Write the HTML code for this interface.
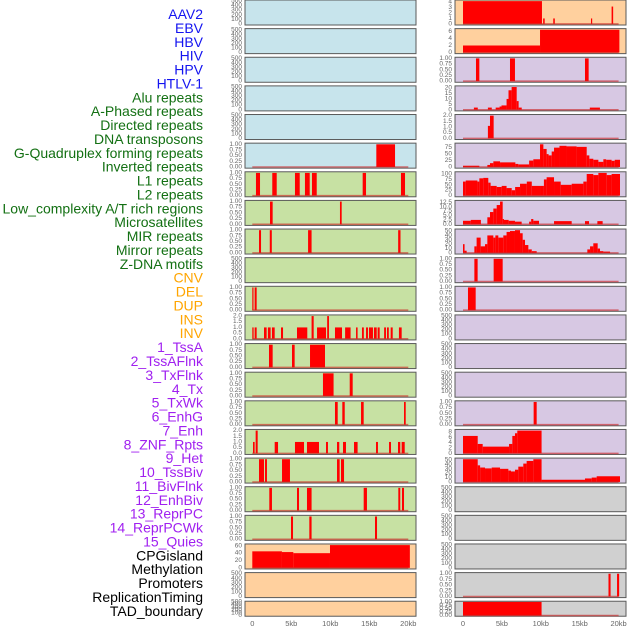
<!DOCTYPE html>
<html><head><meta charset="utf-8"><style>
html,body{margin:0;padding:0;background:#fff;}
svg{display:block;font-family:"Liberation Sans",sans-serif;}
</style></head><body>
<svg id="chart" width="630" height="630" viewBox="0 0 630 630" xmlns="http://www.w3.org/2000/svg"></svg>
<script>
// ---- labels ----
const labelNames = ["AAV2","EBV","HBV","HIV","HPV","HTLV-1","Alu repeats","A-Phased repeats","Directed repeats","DNA transposons","G-Quadruplex forming repeats","Inverted repeats","L1 repeats","L2 repeats","Low_complexity A/T rich regions","Microsatellites","MIR repeats","Mirror repeats","Z-DNA motifs","CNV","DEL","DUP","INS","INV","1_TssA","2_TssAFlnk","3_TxFlnk","4_Tx","5_TxWk","6_EnhG","7_Enh","8_ZNF_Rpts","9_Het","10_TssBiv","11_BivFlnk","12_EnhBiv","13_ReprPC","14_ReprPCWk","15_Quies","CPGisland","Methylation","Promoters","ReplicationTiming","TAD_boundary"];
const labelGroups = [6,13,5,15,5];
const groupColors = ["#1414f0","#137013","#ffa500","#a020f0","#000000"];
// ---- x ticks ----
const xTickVals = [0,5,10,15,20];
const xTickLabels = ["0","5kb","10kb","15kb","20kb"];
// ---- y tick sets ----
const t500 = ["0","100","200","300","400","500"];
const t01 = ["0.00","0.25","0.50","0.75","1.00"];
const t02 = ["0.0","0.5","1.0","1.5","2.0"];
const t060 = ["0","20","40","60"];
const t04 = ["0","1","2","3","4"];
const t06 = ["0","2","4","6"];
const t020 = ["0","5","10","15","20"];
const t075 = ["0","25","50","75"];
const t0100 = ["0","25","50","75","100"];
const t0125 = ["0.0","2.5","5.0","7.5","10.0","12.5"];
const t050 = ["0","10","20","30","40","50"];
const t08 = ["0","2","4","6","8"];
// ---- data segments [startKb, endKb, value] ----
const gquadL = [[15.9,18.3,1]];
const l1L = [[0.47,0.99,1],[2.56,3.13,1],[5.47,6.08,1],[6.75,7.36,1],[7.65,8.26,1],[14.15,14.58,1],[19.06,19.58,1]];
const lowL = [[2.27,2.61,1],[11.24,11.46,1]];
const mirL = [[0.86,1.12,1],[2.24,2.5,1],[7.15,7.6,1],[18.7,19.0,1]];
const delL = [[0,0.15,1],[0.3,0.56,1]];
const insL = [[0,0.17,1],[0.3,0.56,1],[1.5,1.84,1],[2.0,2.35,1],[2.52,2.87,1],[3.68,3.94,1],[5.73,7.05,1],[7.6,7.87,2],[8.3,9.45,1],[9.6,9.83,2],[10.6,11.5,1],[11.9,12.6,1],[13.3,13.5,1],[14.06,14.3,1],[14.58,14.83,1],[14.96,15.47,1],[15.6,15.95,1],[16.07,16.33,1],[16.9,17.14,1],[17.27,17.5,1],[17.74,18.0,1],[18.8,19.15,1]];
const tssaL = [[2.14,2.61,1],[5.09,5.43,1],[7.4,9.32,1]];
const tssaflnkL = [[9.06,10.42,1],[12.49,12.87,1]];
const txflnkL = [[10.6,10.95,1],[11.54,11.85,1],[13.94,14.28,1],[19.45,19.67,1]];
const txL = [[0.09,0.3,1],[0.43,0.69,2],[2.87,3.3,1],[5.47,6.63,1],[7.01,8.55,1],[9.45,9.7,1],[10.86,11.15,1],[11.63,12.01,1],[13.04,13.5,1],[15.86,16.11,1],[17.53,17.78,1],[18.68,18.97,1],[19.15,19.54,1]];
const txwkL = [[0.86,1.5,1],[1.63,1.88,1],[3.81,4.83,1],[10.86,11.2,1],[11.37,11.76,1]];
const enhgL = [[2.18,2.52,1],[5.73,5.99,1],[7.01,7.6,1],[14.28,14.7,1],[18.72,18.97,1],[19.19,19.45,1]];
const enhL = [[4.96,5.22,1],[7.31,7.6,1],[15.73,15.99,1]];
const cpgL = [[0,3.8,45],[3.8,5.26,43],[5.26,9.96,40],[9.96,20.2,62]];
const aavR = [[0,10.15,4.2],[10.3,10.5,1],[11.6,11.8,1],[16.45,16.6,1],[19.1,19.3,3.2]];
const ebvR = [[0,9.9,2],[9.9,20.1,6.5]];
const hbvR = [[1.67,2.1,1],[6.04,6.68,1],[15.68,16.15,1]];
const hivR = [[1.4,1.9,2],[3.2,3.7,2],[4.2,4.7,2],[4.7,4.95,3],[4.95,5.6,4],[5.6,5.85,10],[5.85,6.25,18],[6.25,6.9,21],[6.9,7.15,8],[7.15,7.55,2],[16.3,17.6,2]];
const hpvR = [[3.2,3.47,1.1],[3.47,3.94,2]];
const gquadR = [[0,2.1,5],[3.13,3.47,8],[3.47,3.9,15],[3.9,4.76,22],[4.76,6.73,18],[6.73,7.11,12],[7.11,8.5,10],[8.5,9.04,25],[9.04,9.9,30],[9.9,10.33,88],[10.33,10.75,70],[10.75,11.0,50],[11.0,11.4,45],[11.4,11.7,60],[11.7,12.4,75],[12.4,13.3,82],[13.3,14.6,80],[14.6,15.9,78],[15.9,16.24,45],[16.24,16.75,32],[16.75,17.4,28],[17.4,18.04,20],[18.04,18.4,30],[18.4,19.1,28],[19.1,19.5,24],[19.5,20.18,28]];
const invR = [[0,0.35,65],[0.35,1.85,70],[1.85,2.1,65],[2.1,2.6,80],[2.6,3.25,82],[3.25,3.55,60],[3.55,4.33,45],[4.33,4.97,40],[4.97,5.6,45],[5.6,6.26,35],[6.26,6.7,25],[6.7,7.33,40],[7.33,8.2,55],[8.2,8.84,65],[8.84,9.9,45],[9.9,10.4,45],[10.4,10.75,75],[10.75,11.7,85],[11.7,12.56,65],[12.56,13.97,50],[13.97,15.47,55],[15.47,15.9,65],[15.9,16.75,100],[16.75,17.4,95],[17.4,18.47,105],[18.47,19.1,95],[19.1,20.18,100]];
const lowcR = [[0,1.0,2],[1.0,2.3,2.5],[3.13,3.47,4],[3.47,3.9,7],[3.9,4.33,9],[4.33,4.76,11],[4.76,5.1,13],[5.1,5.27,3],[5.27,5.87,2.5],[5.87,6.68,2],[6.68,7.54,1.5],[8.5,8.76,1.5],[8.76,9.04,3],[9.04,9.77,2],[11.7,13.97,1.8],[15.68,16.2,1.8],[17.27,17.95,1.8]];
const mirR = [[0,0.2,20],[0.2,0.47,5],[1.46,1.75,15],[1.75,2.27,35],[2.27,2.83,15],[2.83,3.13,20],[3.13,3.9,40],[3.9,4.16,35],[4.16,4.54,40],[4.54,5.18,35],[5.18,5.6,40],[5.6,6.04,48],[6.04,6.68,50],[6.68,7.33,52],[7.33,7.67,45],[7.67,7.97,30],[7.97,8.4,18],[8.4,8.84,8],[8.84,9.47,4],[15.98,16.33,8],[16.33,16.75,15],[16.75,17.31,22],[17.31,17.61,10],[17.61,18.04,4],[18.04,18.9,3]];
const microR = [[1.46,1.88,1],[3.94,5.1,1]];
const mirrorR = [[0.64,1.63,1]];
const enhR = [[9.08,9.47,1]];
const znfR = [[0,1.89,6.5],[1.89,2.53,3.5],[2.53,5.92,2.5],[5.92,6.34,3.5],[6.34,6.68,6.5],[6.68,6.98,7.5],[6.98,10.1,8.5]];
const hetR = [[0,1.89,52],[1.89,2.2,38],[2.2,2.83,33],[2.83,3.69,31],[3.69,4.76,33],[4.76,5.83,30],[5.83,6.17,26],[6.17,6.68,24],[6.68,7.11,28],[7.11,7.75,35],[7.75,8.18,42],[8.18,9.04,48],[9.04,10.1,52],[10.1,15.68,5],[15.68,16.54,8],[16.54,17.18,10],[17.18,20.18,13]];
const promR = [[18.7,18.97,1],[19.8,20.07,1]];
const tadR = [[0,10.1,1]];

const BLUE="#c7e4ec", PEACH="#ffd09e", LAV="#d7c8e3", GREEN="#c7e1a3", GRAY="#d0d0d0";
// rows: [row, side, bg, maxValue, ticks, segments]
const panels = [
 [0,"L",BLUE,500,t500,null],[1,"L",BLUE,500,t500,null],[2,"L",BLUE,500,t500,null],[3,"L",BLUE,500,t500,null],[4,"L",BLUE,500,t500,null],
 [5,"L",BLUE,1,t01,gquadL],[6,"L",GREEN,1,t01,l1L],[7,"L",GREEN,1,t01,lowL],[8,"L",GREEN,1,t01,mirL],[9,"L",GREEN,500,t500,null],
 [10,"L",GREEN,1,t01,delL],[11,"L",GREEN,2,t02,insL],[12,"L",GREEN,1,t01,tssaL],[13,"L",GREEN,1,t01,tssaflnkL],[14,"L",GREEN,1,t01,txflnkL],
 [15,"L",GREEN,2,t02,txL],[16,"L",GREEN,1,t01,txwkL],[17,"L",GREEN,1,t01,enhgL],[18,"L",GREEN,1,t01,enhL],[19,"L",PEACH,62,t060,cpgL],
 [20,"L",PEACH,500,t500,null],[21,"L",PEACH,500,t500,null],
 [0,"R",PEACH,4.2,t04,aavR],[1,"R",PEACH,6.5,t06,ebvR],[2,"R",LAV,1,t01,hbvR],[3,"R",LAV,21,t020,hivR],[4,"R",LAV,2,t02,hpvR],
 [5,"R",LAV,88,t075,gquadR],[6,"R",LAV,105,t0100,invR],[7,"R",LAV,13,t0125,lowcR],[8,"R",LAV,52,t050,mirR],[9,"R",LAV,1,t01,microR],
 [10,"R",LAV,1,t01,mirrorR],[11,"R",LAV,500,t500,null],[12,"R",LAV,500,t500,null],[13,"R",LAV,500,t500,null],[14,"R",LAV,1,t01,enhR],
 [15,"R",LAV,8.5,t08,znfR],[16,"R",LAV,52,t050,hetR],[17,"R",GRAY,500,t500,null],[18,"R",GRAY,500,t500,null],[19,"R",GRAY,500,t500,null],
 [20,"R",GRAY,1,t01,promR],[21,"R",GRAY,1,t01,tadR]
];

const NS="http://www.w3.org/2000/svg";
const svg=document.getElementById("chart");
function mk(tag,attrs,parent){const e=document.createElementNS(NS,tag);for(const k in attrs)e.setAttribute(k,attrs[k]);(parent||svg).appendChild(e);return e;}
function xScale(side,kb){return side==="L"?252.3+kb*7.8:463+kb*7.78;}
function rowTop(r){return r*28.63;}
function rowH(r){return r===21?15:25;}

// labels
let idx=0;
labelGroups.forEach((n,g)=>{for(let i=0;i<n;i++){const t=mk("text",{x:203,y:14+idx*13.88,"text-anchor":"end","dominant-baseline":"central","font-size":"14",fill:groupColors[g]});


t.textContent=labelNames[idx];idx++;}});

panels.forEach(p=>{
 const [r,side,bg,mx,ticks,segs]=p;
 const top=rowTop(r),h=rowH(r),bot=top+h;
 const x0=side==="L"?245:455,x1=side==="L"?416:626;
 const lo=-0.05*mx,hi=1.05*mx;
 const y=v=>bot-(v-lo)/(hi-lo)*h;
 const g=mk("g",{});
 
 
 mk("rect",{x:x0,y:top,width:x1-x0,height:h,fill:bg,stroke:"#5a5a5a","stroke-width":1},g);
 ticks.forEach(tl=>{const v=Number(tl);const t=mk("text",{x:x0-3,y:y(v),"text-anchor":"end","dominant-baseline":"central","font-size":"6.5",fill:"#666"},g);
  
  
  t.textContent=tl;});
 if(segs){
  segs.forEach(s=>{const xa=xScale(side,s[0]),xb=xScale(side,s[1]);const rc=mk("rect",{x:xa,y:y(s[2]),width:Math.max(1.2,xb-xa),height:y(0)-y(s[2]),fill:"#ff0000"},g);
   
   });
  const ln=mk("line",{x1:xScale(side,0),x2:xScale(side,20),y1:y(0),y2:y(0),stroke:"#cc2020","stroke-opacity":0.6,"stroke-width":1.5},g);
  
  
 }
});
// x axes
["L","R"].forEach(side=>{xTickVals.forEach((v,i)=>{const t=mk("text",{x:xScale(side,v),y:626,"text-anchor":"middle","font-size":"7.5",fill:"#666"});
 
 
 t.textContent=xTickLabels[i];});});
</script>
</body></html>
